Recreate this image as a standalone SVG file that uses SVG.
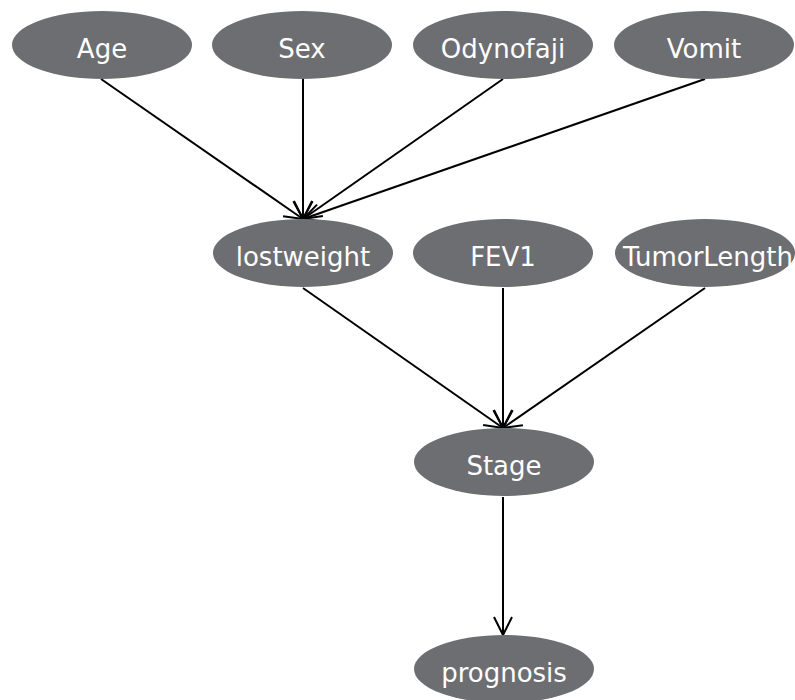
<svg xmlns="http://www.w3.org/2000/svg" width="795" height="700" viewBox="0 0 795 700">
  <style>
    .node ellipse { fill: #6d6e72; }
    .node text { fill: #ffffff; font-family: "DejaVu Sans", Verdana, sans-serif; font-size: 26px; text-anchor: middle; }
    .edge { stroke: #000000; stroke-width: 2; fill: none; marker-end: url(#arrow); }
  </style>
  <defs>
    <marker id="arrow" markerUnits="userSpaceOnUse" markerWidth="24" markerHeight="24" viewBox="-20 -12 22 24" refX="0" refY="0" orient="auto">
      <path d="M-18,-9 L0,0 L-18,9" fill="none" stroke="#000000" stroke-width="2"/>
    </marker>
  </defs>
  <rect width="795" height="700" fill="#ffffff"/>

  <g id="edges">
    <line class="edge" x1="101" y1="79" x2="303" y2="219"/>
    <line class="edge" x1="303" y1="79" x2="303" y2="219"/>
    <line class="edge" x1="503" y1="79" x2="303" y2="219"/>
    <line class="edge" x1="705" y1="79" x2="303" y2="219"/>
    <line class="edge" x1="303" y1="288" x2="503" y2="428"/>
    <line class="edge" x1="503" y1="288" x2="503" y2="428"/>
    <line class="edge" x1="705" y1="288" x2="503" y2="428"/>
    <line class="edge" x1="503" y1="497" x2="503" y2="635"/>
  </g>

  <g id="Age" class="node"><ellipse cx="102" cy="45" rx="90" ry="34"/><text x="102" y="58">Age</text></g>
  <g id="Sex" class="node"><ellipse cx="302" cy="45" rx="90" ry="34"/><text x="302" y="58">Sex</text></g>
  <g id="Odynofaji" class="node"><ellipse cx="503" cy="45" rx="90" ry="34"/><text x="503" y="58">Odynofaji</text></g>
  <g id="Vomit" class="node"><ellipse cx="704" cy="45" rx="90" ry="34"/><text x="704" y="58">Vomit</text></g>

  <g id="lostweight" class="node"><ellipse cx="303" cy="253" rx="90" ry="34"/><text x="303" y="266">lostweight</text></g>
  <g id="FEV1" class="node"><ellipse cx="503" cy="253" rx="90" ry="34"/><text x="503" y="266">FEV1</text></g>
  <g id="TumorLength" class="node"><ellipse cx="705" cy="253" rx="90" ry="34"/><text x="708" y="266">TumorLength</text></g>

  <g id="Stage" class="node"><ellipse cx="504" cy="462" rx="90" ry="34"/><text x="504" y="475">Stage</text></g>
  <g id="prognosis" class="node"><ellipse cx="504" cy="669" rx="90" ry="34"/><text x="504" y="682">prognosis</text></g>
</svg>
